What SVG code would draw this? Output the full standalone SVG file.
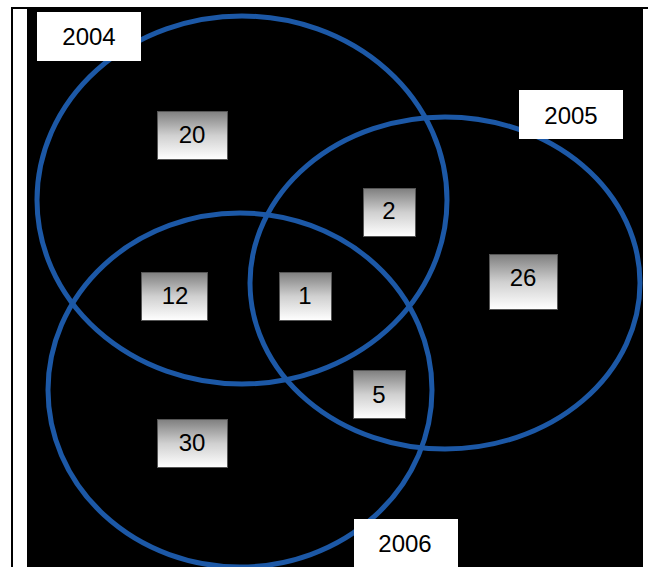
<svg xmlns="http://www.w3.org/2000/svg" width="648" height="567" viewBox="0 0 648 567">
<defs>
<linearGradient id="g" x1="0" y1="0" x2="0" y2="1">
<stop offset="0" stop-color="#7f7f7f"/>
<stop offset="0.5" stop-color="#d0d0d0"/>
<stop offset="1" stop-color="#ffffff"/>
</linearGradient>
<style>
.ring{fill:none;stroke:#1c58a6;stroke-width:5}
.num{fill:url(#g);stroke:#555;stroke-width:1}
.lab{fill:#fff}
text{font-family:"Liberation Sans",Arial,sans-serif;font-size:24px;fill:#000;text-anchor:middle}
</style>
</defs>
<rect x="0" y="0" width="648" height="567" fill="#fff"/>
<rect x="11" y="7" width="637" height="2" fill="#000"/>
<rect x="11" y="7" width="2" height="560" fill="#000"/>
<rect x="27" y="7" width="616" height="560" fill="#000"/>
<g id="connectors"></g>
<g id="set2004"><ellipse class="ring" cx="242" cy="200" rx="205" ry="184"/></g>
<g id="set2005"><ellipse class="ring" cx="445" cy="283" rx="195" ry="166"/></g>
<g id="set2006"><ellipse class="ring" cx="240" cy="390" rx="192" ry="177"/></g>
<g id="n20"><rect class="num" x="157.5" y="111.5" width="70" height="48"/><text x="192" y="143">20</text></g>
<g id="n2"><rect class="num" x="363.5" y="188.5" width="52" height="48"/><text x="389" y="219">2</text></g>
<g id="n12"><rect class="num" x="141.5" y="272.5" width="66" height="48"/><text x="175" y="304">12</text></g>
<g id="n1"><rect class="num" x="279.5" y="272.5" width="52" height="48"/><text x="305" y="304">1</text></g>
<g id="n26"><rect class="num" x="489.5" y="254.5" width="68" height="55"/><text x="523" y="286">26</text></g>
<g id="n5"><rect class="num" x="353.5" y="370.5" width="52" height="48"/><text x="379" y="403">5</text></g>
<g id="n30"><rect class="num" x="157.5" y="419.5" width="70" height="48"/><text x="192" y="451">30</text></g>
<g id="l2004"><rect class="lab" x="37" y="12" width="104" height="49"/><text x="89" y="45">2004</text></g>
<g id="l2005"><rect class="lab" x="519" y="90" width="104" height="49"/><text x="571" y="124">2005</text></g>
<g id="l2006"><rect class="lab" x="354" y="519" width="104" height="48"/><text x="405" y="552">2006</text></g>
</svg>
